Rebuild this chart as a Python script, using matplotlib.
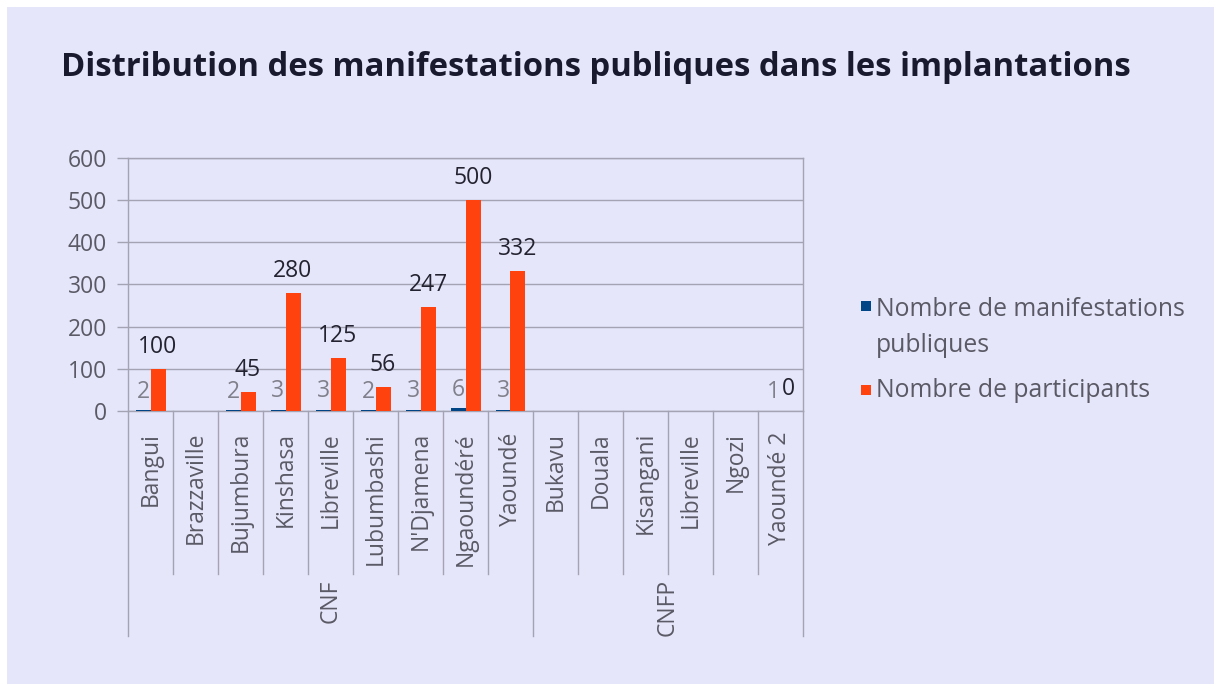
import numpy as np
import matplotlib
matplotlib.use("Agg")
import matplotlib.pyplot as plt
from matplotlib.patches import Rectangle

plt.rcParams['font.family'] = ['Open Sans', 'DejaVu Sans']

# ---------- data ----------
categories = ["Bangui", "Brazzaville", "Bujumbura", "Kinshasa", "Libreville",
              "Lubumbashi", "N'Djamena", "Ngaoundéré", "Yaoundé",
              "Bukavu", "Douala", "Kisangani", "Libreville", "Ngozi", "Yaoundé 2"]
groups = ["CNF", "CNFP"]
group_sizes = [9, 6]
nan = np.nan
manifestations = [2, nan, 2, 3, 3, 2, 3, 6, 3, nan, nan, nan, nan, nan, 1]
participants = [100, nan, 45, 280, 125, 56, 247, 500, 332, nan, nan, nan, nan, nan, 0]
legend_lines = [["Nombre de manifestations", "publiques"], ["Nombre de participants"]]
yticks = [0, 100, 200, 300, 400, 500, 600]

BG = "#E6E6FA"
BLUE = "#004586"
ORANGE = "#FF420E"
GRID = "#A3A3B3"
TXT = "#5a5a66"
W, H = 1214, 684

fig = plt.figure(figsize=(W / 100, H / 100), dpi=100, facecolor=BG)
# white strip on top/left like the screenshot
fig.patches.append(Rectangle((0, 1 - 7 / H), 1, 7 / H, transform=fig.transFigure,
                             facecolor="white", edgecolor="none", zorder=-1))
fig.patches.append(Rectangle((0, 0), 7 / W, 1, transform=fig.transFigure,
                             facecolor="white", edgecolor="none", zorder=-1))

L, R, T, B = 128, 803, 158, 411
ax = fig.add_axes([L / W, 1 - B / H, (R - L) / W, (B - T) / H])
ax.set_facecolor(BG)

x = np.arange(len(categories))
bw = 1 / 3
ax.bar(x - bw / 2, manifestations, bw, color=BLUE, zorder=3)
ax.bar(x + bw / 2, participants, bw, color=ORANGE, zorder=3)

# data labels
for i, v in enumerate(manifestations):
    if not np.isnan(v):
        ax.annotate(f"{int(v)}", (x[i] - bw / 2, v), xytext=(0, 9), textcoords="offset points",
                    ha="center", va="baseline", fontsize=16.5, color="#80808c")
for i, v in enumerate(participants):
    if not np.isnan(v):
        ax.annotate(f"{int(v)}", (x[i] + bw / 2, v), xytext=(0, 11.5), textcoords="offset points",
                    ha="center", va="baseline", fontsize=16.5, color="#222230")

ax.set_xlim(-0.5, len(categories) - 0.5)
ax.set_ylim(0, 600)
ax.set_yticks(yticks)
ax.yaxis.grid(True, color=GRID, lw=1, zorder=0)
ax.tick_params(axis="y", length=8, width=1, color=GRID, pad=7, labelsize=16.5, labelcolor=TXT)
ax.set_xticks([])
for s in ax.spines.values():
    s.set_color(GRID)
    s.set_linewidth(1)

# multi-level category axis
trans = ax.get_xaxis_transform()
for i, name in enumerate(categories):
    ax.text(x[i], -0.083, name, transform=trans, rotation=90, ha="center", va="top",
            fontsize=16.5, color=TXT)
bounds = np.cumsum([0] + group_sizes) - 0.5
for b in np.arange(len(categories) + 1) - 0.5:
    depth = -0.89 if b in bounds else -0.645
    ax.plot([b, b], [0, depth], transform=trans, color=GRID, lw=1, clip_on=False)
start = 0
for g, n in zip(groups, group_sizes):
    ax.text(start + (n - 1) / 2, -0.665, g, transform=trans, rotation=90, ha="center",
            va="top", fontsize=16.5, color=TXT)
    start += n

# title
fig.text(61 / W, 1 - 76 / H, "Distribution des manifestations publiques dans les implantations",
         fontsize=23.6, fontweight="bold", color="#1a1a2e", ha="left", va="baseline")

# legend
for (yc, col) in [(306, BLUE), (390, ORANGE)]:
    fig.patches.append(Rectangle((861 / W, 1 - (yc + 5) / H), 10 / W, 10 / H,
                                 transform=fig.transFigure, facecolor=col, edgecolor="none"))
for ybase, line in zip([316, 352], legend_lines[0]):
    fig.text(876 / W, 1 - ybase / H, line, fontsize=17.8, color=TXT, ha="left", va="baseline")
fig.text(876 / W, 1 - 397 / H, legend_lines[1][0], fontsize=17.8, color=TXT,
         ha="left", va="baseline")

fig.savefig("out.png", dpi=100, facecolor=BG)
